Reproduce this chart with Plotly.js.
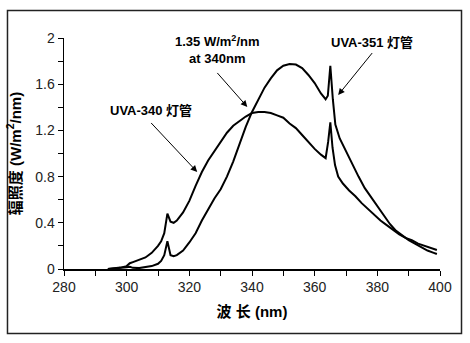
<!DOCTYPE html>
<html><head><meta charset="utf-8">
<script src="https://cdn.plot.ly/plotly-3.0.1.min.js"></script>
<style>html,body{margin:0;padding:0;background:#fff}#chart{width:470px;height:343px}</style>
</head><body><div id="chart"></div>
<script>
var uva340Wave = [294,296,298,300,301,302,304,306,308,310,311,312,313,314,315,316,318,320,322,324,326,328,330,332,334,336,338,340,342,344,346,348,350,352,354,356,358,360,362,363.5,364.3,365,365.7,366.5,367.5,369,371,373,375,377,379,381,383,385,387,389,391,393,395,397,399];
var uva340Irr = [0,0.005,0.012,0.025,0.05,0.06,0.08,0.1,0.14,0.2,0.24,0.31,0.48,0.41,0.40,0.42,0.49,0.59,0.72,0.84,0.94,1.02,1.10,1.18,1.24,1.28,1.32,1.35,1.36,1.36,1.35,1.33,1.31,1.26,1.22,1.16,1.10,1.04,0.99,0.96,1.10,1.27,1.05,0.90,0.80,0.74,0.68,0.63,0.57,0.52,0.47,0.42,0.38,0.34,0.30,0.27,0.25,0.22,0.20,0.18,0.165];
var uva351Wave = [294,296,298,300,301,302,304,306,308,310,311,312,313,314,315,316,318,320,322,324,326,328,330,332,334,336,338,340,342,344,346,348,350,352,354,356,358,360,362,363.5,364.2,365,365.8,366.6,368,370,372,374,376,378,380,382,384,386,388,390,392,394,396,398,399];
var uva351Irr = [0,0.003,0.01,0.015,0.02,0.01,0.008,0.015,0.025,0.045,0.07,0.12,0.24,0.12,0.11,0.12,0.16,0.23,0.31,0.42,0.52,0.61,0.69,0.80,0.93,1.08,1.23,1.36,1.46,1.57,1.65,1.72,1.76,1.775,1.77,1.74,1.68,1.61,1.52,1.47,1.50,1.76,1.47,1.25,1.13,1.02,0.90,0.80,0.70,0.62,0.54,0.46,0.39,0.33,0.29,0.25,0.22,0.19,0.16,0.14,0.13];
var xTickVals = [280,300,320,340,360,380,400];
var yTickVals = [0,0.4,0.8,1.2,1.6,2];
var yTickText = ['0','0.4','0.8','1.2','1.6','2'];

var FONT = 'Liberation Sans, Arial, Noto Sans CJK SC, sans-serif';
var lineStyle = {color:'#000', width:2};
var traces = [
  {x:uva340Wave, y:uva340Irr, type:'scatter', mode:'lines', line:lineStyle, name:'UVA-340 灯管'},
  {x:uva351Wave, y:uva351Irr, type:'scatter', mode:'lines', line:lineStyle, name:'UVA-351 灯管'}
];
var axisCommon = {
  showline:true, linecolor:'#000', linewidth:1.5, showgrid:false, zeroline:false,
  ticks:'outside', ticklen:5, tickwidth:1, tickcolor:'#000',
  tickfont:{family:FONT, size:14, color:'#222'}
};
var annFont = {family:FONT, size:13, color:'#000'};
var arrowStyle = {showarrow:true, arrowhead:2, arrowsize:1.3, arrowwidth:1, arrowcolor:'#000',
  xanchor:'center', yanchor:'bottom', font:annFont, xref:'x', yref:'y'};
var layout = {
  width:470, height:343,
  margin:{l:64, r:30, t:38, b:74},
  paper_bgcolor:'#fff', plot_bgcolor:'#fff',
  showlegend:false,
  xaxis: Object.assign({}, axisCommon, {
    range:[280,400], tickvals:xTickVals, ticktext:xTickVals.map(String),
    minor:{dtick:10, ticks:'outside', ticklen:5, tickcolor:'#000', showgrid:false},
    title:{text:'<b>波 长 (nm)</b>', font:{family:FONT, size:15, color:'#000'}, standoff:12}
  }),
  yaxis: Object.assign({}, axisCommon, {
    range:[0,2], tickvals:yTickVals, ticktext:yTickText,
    minor:{dtick:0.2, ticks:'outside', ticklen:5, tickcolor:'#000', showgrid:false},
    title:{text:'<b>辐照度 (W/m<sup>2</sup>/nm)</b>', font:{family:FONT, size:15, color:'#000'}, standoff:10}
  }),
  shapes:[{type:'rect', xref:'paper', yref:'paper', x0:-0.1503, x1:1.0572, y0:-0.2792, y1:1.119,
    line:{color:'#222', width:1.5}}],
  annotations:[
    Object.assign({}, arrowStyle, {x:338.5, y:1.403, ax:-30, ay:-34, borderpad:6,
      text:'<b>1.35 W/m<sup>2</sup>/nm<br>at 340nm</b>'}),
    Object.assign({}, arrowStyle, {x:322.5, y:0.84, ax:-46, ay:-49, borderpad:4,
      text:'<b>UVA-340 灯管</b>'}),
    Object.assign({}, arrowStyle, {x:367.5, y:1.506, ax:34, ay:-42, borderpad:2,
      text:'<b>UVA-351 灯管</b>'})
  ]
};
Plotly.newPlot('chart', traces, layout, {displayModeBar:false, staticPlot:true});
</script></body></html>
